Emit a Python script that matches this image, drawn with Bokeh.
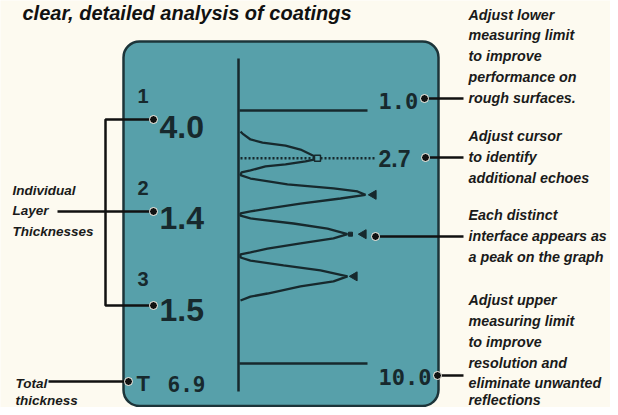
from bokeh.plotting import figure
from bokeh.models import Range1d, ColumnDataSource
from bokeh.core.properties import value
from bokeh.embed import file_html
from bokeh.resources import INLINE
import math

# ---------------- data ----------------
title_text = "clear, detailed analysis of coatings"
layer_numbers = ["1", "2", "3"]
layer_values = [4.0, 1.4, 1.5]
total_thickness = 6.9
lower_limit = 1.0
upper_limit = 10.0
cursor_depth = 2.7

# echo trace: amplitude (arb. units) vs depth
wave_amp = [1, 3, 11, 23, 46, 61, 78, 78, 66, 46, 26, 11, 2, 1,
            11, 48, 94, 118, 126, 101, 61, 28, 11, 1,
            1, 11, 54, 88, 108, 94, 61, 28, 11, 1,
            1, 11, 44, 81, 108, 94, 61, 28, 11, 1]
wave_depth = [1.75, 1.82, 2.03, 2.14, 2.25, 2.39, 2.68, 2.72, 2.81, 2.92, 2.99, 3.13, 3.20, 3.30,
              3.42, 3.63, 3.77, 3.88, 4.00, 4.13, 4.31, 4.49, 4.59, 4.66,
              4.74, 4.84, 5.02, 5.20, 5.40, 5.55, 5.73, 5.91, 6.05, 6.12,
              6.23, 6.34, 6.51, 6.69, 6.90, 7.08, 7.26, 7.51, 7.62, 7.76]
peak_depths = [4.0, 5.4, 6.9]
peak_marker_amps = [134, 124, 115]

right_notes = [
    ["Adjust lower", "measuring limit", "to improve", "performance on", "rough surfaces."],
    ["Adjust cursor", "to identify", "additional echoes"],
    ["Each distinct", "interface appears as", "a peak on the graph"],
    ["Adjust upper", "measuring limit", "to improve", "resolution and", "eliminate unwanted", "reflections"],
]
left_notes = [["Individual", "Layer", "Thicknesses"], ["Total", "thickness"]]

# ---------------- layout / style ----------------
W, H = 610, 407
Y_TOP = 2                  # reference row shown at the top of the canvas
CREAM = "#fdfaf0"
SCREEN = "#57a0aa"
DARK = "#17292d"
SANS = value("'Liberation Sans', Arial, sans-serif")
MONO = value("'DejaVu Sans Mono', 'Liberation Mono', monospace")
K = 0.36                   # baseline correction (fraction of font size)

Y_LO, Y_HI = 112, 365      # pixel rows of the lower / upper limit lines
X_BASE = 239               # pixel column of trace baseline


def depth_at(py):
    return lower_limit + (py - Y_LO) * (upper_limit - lower_limit) / (Y_HI - Y_LO)


def bl(y, fs):
    return y - K * fs


p = figure(width=W, height=H, x_range=Range1d(0, W), y_range=Range1d(Y_TOP + H, Y_TOP),
           output_backend="svg", toolbar_location=None, min_border=0,
           x_axis_location=None, y_axis_location=None,
           background_fill_color=CREAM, border_fill_color=CREAM, outline_line_color=None)
p.grid.visible = False
p.extra_x_ranges = {"amp": Range1d(0 - X_BASE, W - X_BASE)}
p.extra_y_ranges = {"depth": Range1d(start=depth_at(Y_TOP + H), end=depth_at(Y_TOP))}

# screen
p.quad(left=123, right=438, top=43, bottom=407.5, fill_color=SCREEN, line_color="#1c3439",
       line_width=2.5, border_radius=16)

# vertical baseline
p.segment(x0=[238], y0=[60], x1=[238], y1=[393], line_color=DARK, line_width=2.5)

# limit lines
p.segment(x0=[0, 0], x1=[128, 128], y0=[lower_limit, upper_limit], y1=[lower_limit, upper_limit],
          x_range_name="amp", y_range_name="depth", line_color=DARK, line_width=2.5)

# cursor
p.segment(x0=[1], x1=[137], y0=[cursor_depth], y1=[cursor_depth], x_range_name="amp",
          y_range_name="depth", line_color=DARK, line_width=2.5, line_dash="2 2")

# trace
p.line(wave_amp, wave_depth, x_range_name="amp", y_range_name="depth",
       line_color=DARK, line_width=2.3)
p.scatter([78], [cursor_depth], x_range_name="amp", y_range_name="depth", marker="square",
          size=6, fill_color=SCREEN, line_color=DARK, line_width=1.5)
p.scatter([111], [peak_depths[1]], x_range_name="amp", y_range_name="depth", marker="square",
          size=4, fill_color=DARK, line_color=DARK)
p.scatter(peak_marker_amps, peak_depths, x_range_name="amp", y_range_name="depth",
          marker="triangle", angle=math.pi / 2, size=9, fill_color=DARK, line_color=DARK)

# numbers on screen
fs = 32
big = ColumnDataSource(dict(x=[159, 159, 159], y=[bl(v, fs) for v in (140, 231, 323)],
                            t=["%.1f" % v for v in layer_values]))
p.text("x", "y", "t", source=big, text_font=SANS, text_font_size="%dpx" % fs,
       text_font_style="bold", text_color=DARK, text_baseline="alphabetic")
fs = 20
sup = ColumnDataSource(dict(x=[137, 137, 137], y=[bl(v, fs) for v in (105, 197, 288)], t=layer_numbers))
p.text("x", "y", "t", source=sup, text_font=SANS, text_font_size="%dpx" % fs,
       text_font_style="bold", text_color=DARK, text_baseline="alphabetic")
fs = 22
p.text([136], [bl(393, fs)], ["T"], text_font=SANS, text_font_size="%dpx" % fs,
       text_font_style="bold", text_color=DARK, text_baseline="alphabetic")
p.text([167], [bl(393, 21)], ["%.1f" % total_thickness], text_font=MONO, text_font_size="21px",
       text_font_style="bold", text_color=DARK, text_baseline="alphabetic")
p.text([378, 378], [bl(110, 22), bl(386, 22)], ["%.1f" % lower_limit, "%.1f" % upper_limit],
       text_font=MONO, text_font_size="22px", text_font_style="bold", text_color=DARK,
       text_baseline="alphabetic")
p.text([378], [bl(168, 23)], ["%.1f" % cursor_depth], text_font=SANS, text_font_size="23px",
       text_font_style="bold", text_color=DARK, text_baseline="alphabetic")

# connectors
p.multi_line(xs=[[424, 463], [425, 463], [375, 463], [437, 463],
                 [153, 105, 105, 153], [57, 153], [48, 128]],
             ys=[[100, 100], [159, 159], [238, 238], [377, 377],
                 [121, 121, 307, 307], [213, 213], [383, 383]],
             line_color="#111111", line_width=2.5)
p.scatter([424, 425, 375, 437, 153, 153, 153, 128], [100, 159, 238, 377, 121, 213, 307, 383],
          size=8, fill_color="#111111", line_color=CREAM, line_width=1)

# annotation text
fr = 14.3
right_base = [[22, 42, 63, 84, 105], [143, 164, 185], [222, 243, 264], [307, 328, 349, 370, 390, 407]]
rx, ry, rt = [], [], []
for lines, bases in zip(right_notes, right_base):
    for s, b in zip(lines, bases):
        rx.append(468); ry.append(bl(b, fr)); rt.append(s)
p.text(rx, ry, rt, text_font=SANS, text_font_size="%spx" % fr, text_font_style="bold italic",
       text_color="#1a1a1a", text_baseline="alphabetic")

fl = 13.5
left_base = [[197, 217, 238], [390, 407]]
left_x = [12, 15]
lx_, ly_, lt_ = [], [], []
for lines, bases, lx in zip(left_notes, left_base, left_x):
    for s, b in zip(lines, bases):
        lx_.append(lx); ly_.append(bl(b, fl)); lt_.append(s)
p.text(lx_, ly_, lt_, text_font=SANS, text_font_size="%spx" % fl, text_font_style="bold italic",
       text_color="#1a1a1a", text_baseline="alphabetic")

p.text([22], [bl(22, 20)], [title_text], text_font=SANS,
       text_font_size="20px", text_font_style="bold italic", text_color="#111111",
       text_baseline="alphabetic")

open("out.html", "w").write(file_html(p, INLINE))
